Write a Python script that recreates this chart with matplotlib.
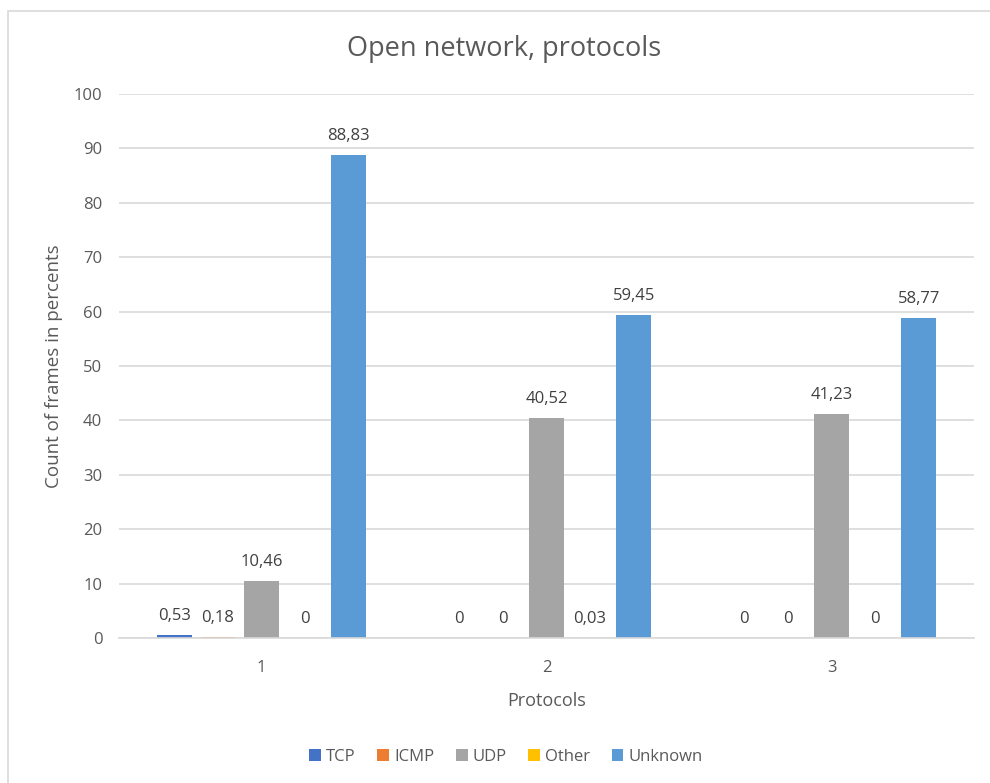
import matplotlib
matplotlib.use("Agg")
import matplotlib.pyplot as plt
import numpy as np
from matplotlib.patches import Rectangle

plt.rcParams['font.family'] = ['Open Sans', 'DejaVu Sans']

categories = ["1", "2", "3"]
series_names = ["TCP", "ICMP", "UDP", "Other", "Unknown"]
tcp = [0.53, 0, 0]
icmp = [0.18, 0, 0]
udp = [10.46, 40.52, 41.23]
other = [0, 0.03, 0]
unknown = [88.83, 59.45, 58.77]
colors = ["#4472C4", "#ED7D31", "#A5A5A5", "#FFC000", "#5B9BD5"]
yticks = [0, 10, 20, 30, 40, 50, 60, 70, 80, 90, 100]

series = [tcp, icmp, udp, other, unknown]
text_color = "#595959"

fig = plt.figure(figsize=(9.9, 7.83), dpi=100)
fig.patches.append(Rectangle((8/990, -0.1), 1.2, 1 - 11/783 + 0.1, transform=fig.transFigure,
                             fill=False, edgecolor="#D9D9D9", linewidth=1.2))
ax = fig.add_axes([119/990, 1 - 638/783, (974 - 119)/990, (638 - 94)/783])

x = np.arange(1, len(categories) + 1)
step = 0.153
width = 0.121
for i, (vals, name, c) in enumerate(zip(series, series_names, colors)):
    pos = x + (i - 2) * step
    bars = ax.bar(pos, vals, width=width, color=c, label=name, zorder=3)
    for b, v in zip(bars, vals):
        lab = ("%.2f" % v).replace(".", ",") if v != 0 else "0"
        ax.text(b.get_x() + b.get_width() / 2, v + 2.0, lab, ha="center", va="bottom",
                fontsize=12, color="#404040")

ax.set_xlim(0.5, 3.5)
ax.set_ylim(0, 100)
ax.set_yticks(yticks)
ax.set_yticklabels([str(t) for t in yticks], fontsize=12, color=text_color)
ax.set_xticks(x)
ax.set_xticklabels(categories, fontsize=12, color=text_color)
ax.tick_params(axis="x", length=0, pad=16)
ax.tick_params(axis="y", length=0, pad=12)
ax.grid(axis="y", color="#D9D9D9", linewidth=1.2, zorder=0)
for s in ["top", "right", "left"]:
    ax.spines[s].set_visible(False)
ax.spines["bottom"].set_color("#D9D9D9")
ax.spines["bottom"].set_linewidth(1.2)
ax.spines["bottom"].set_zorder(4)

ax.set_xlabel("Protocols", fontsize=13, color=text_color, labelpad=11)
ax.set_ylabel("Count of frames in percents", fontsize=13.5, color=text_color, labelpad=8)
fig.text(504/990, 1 - 49/783, "Open network, protocols", ha="center", va="center",
         fontsize=19.5, color=text_color)

leg = fig.legend(loc="center", bbox_to_anchor=(506/990, 1 - 757/783), ncol=5, frameon=False,
                 fontsize=12, handlelength=0.7, handleheight=0.7, handletextpad=0.3,
                 columnspacing=1.3)
for t in leg.get_texts():
    t.set_color(text_color)

fig.savefig("out.png", dpi=100)
